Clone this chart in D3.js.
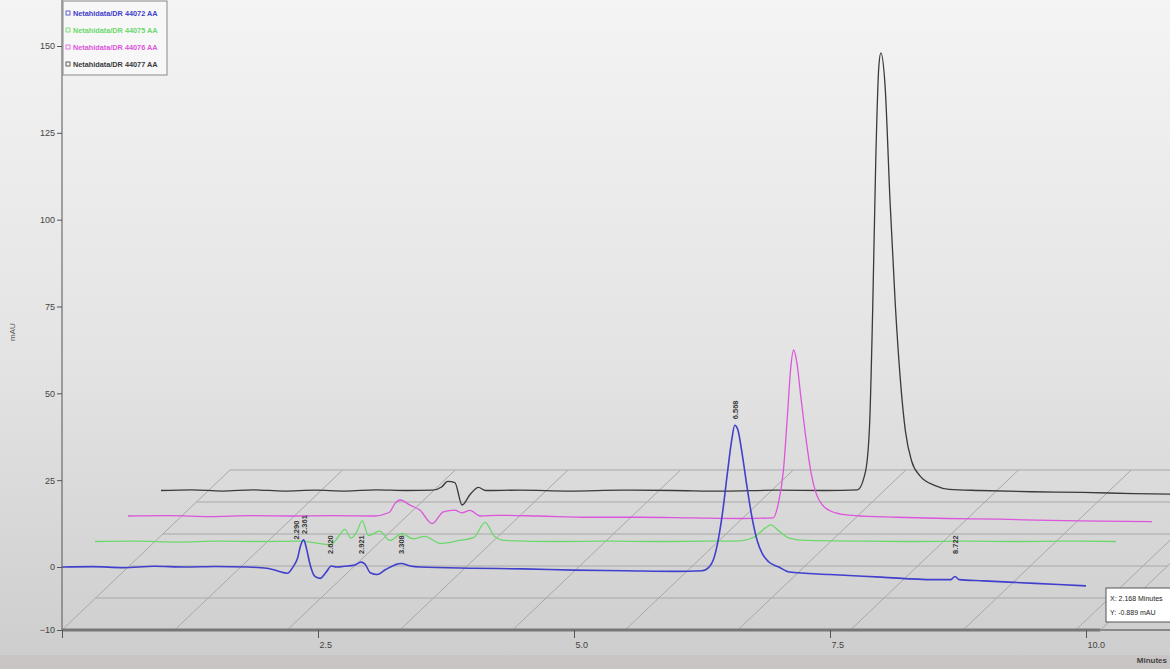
<!DOCTYPE html>
<html>
<head>
<meta charset="utf-8">
<script src="https://cdn.jsdelivr.net/npm/d3@7"></script>
<style>
  html, body { margin: 0; padding: 0; background: #e8e8e8; }
  svg { display: block; }
  text { font-family: "Liberation Sans", "DejaVu Sans", sans-serif; }
</style>
</head>
<body>
<svg id="chart" width="1170" height="669"></svg>
<script>
// ---- data: four overlaid runs, [time (min), signal (mAU)] ----
const seriesNames = [
  "Netahidata/DR 44072 AA",
  "Netahidata/DR 44075 AA",
  "Netahidata/DR 44076 AA",
  "Netahidata/DR 44077 AA"
];
const seriesColors = ["#4040cc", "#6cd86c", "#dc55dc", "#3a3a3a"];

const blueTrace = [
  [0,0],[0.3,0.1],[0.6,-0.1],[0.9,0.2],[1.2,0],[1.5,0.15],[1.8,0],[2.0,-0.2],[2.1,-0.6],
  [2.2,-1.0],[2.26,0.2],[2.3,2.5],[2.33,6.2],[2.36,7.8],[2.39,5.0],[2.42,1.0],[2.47,-1.5],
  [2.52,-1.8],[2.58,-0.8],[2.63,0.3],[2.68,0],[2.76,0.2],[2.86,0.6],[2.92,1.4],[2.96,0.8],
  [3.01,-0.9],[3.08,-1.2],[3.16,-0.4],[3.25,0.6],[3.31,1.0],[3.4,0.3],[3.5,0],[4.0,-0.2],
  [4.5,-0.3],[5.0,-0.5],[5.5,-0.6],[6.0,-0.7],[6.25,-0.6],[6.32,0],[6.36,2],[6.4,6.5],
  [6.45,15.5],[6.5,27.5],[6.54,36.5],[6.57,40.8],[6.6,39.5],[6.64,33],[6.69,23],[6.74,14],
  [6.79,7.5],[6.84,3.8],[6.9,1.5],[7.0,0],[7.1,-0.8],[7.5,-1.2],[8.0,-1.6],[8.5,-2.0],
  [8.68,-2.0],[8.72,-1.5],[8.76,-2.0],[9.0,-2.2],[9.5,-2.6],[10.0,-3.0]
];
const greenTrace = [
  [0,0],[0.4,0.1],[0.8,-0.1],[1.2,0.1],[1.6,0],[2.0,0.1],[2.3,-0.5],[2.38,1.5],[2.44,3.5],
  [2.5,1.0],[2.56,3.0],[2.61,6.0],[2.67,1.7],[2.78,3.0],[2.88,0.3],[3.0,2.3],[3.1,0.8],
  [3.22,1.5],[3.37,-0.3],[3.56,0.3],[3.7,1.2],[3.81,5.5],[3.9,1.5],[4.0,0.3],[4.5,0],
  [5.0,0.1],[5.5,0],[6.0,0.1],[6.3,0.2],[6.45,1.5],[6.55,4.0],[6.6,4.8],[6.68,3.0],
  [6.78,1.0],[6.95,0.3],[7.5,0.1],[8.0,0],[8.5,0.1],[9.0,0],[9.5,0.1],[9.97,0]
];
const magentaTrace = [
  [0,0],[0.4,0.1],[0.8,-0.1],[1.2,0.1],[1.6,0],[2.0,0.1],[2.4,0],[2.55,1.0],[2.61,3.7],
  [2.66,4.6],[2.75,3.2],[2.85,1.7],[2.97,-1.2],[3.08,1.2],[3.19,1.7],[3.26,0.9],[3.34,1.6],
  [3.44,0],[3.6,0.2],[4.0,0],[4.5,-0.2],[5.0,-0.2],[5.5,-0.3],[6.0,-0.4],[6.3,-0.3],
  [6.35,3.5],[6.4,13],[6.44,29],[6.47,42],[6.5,47.8],[6.53,44.5],[6.57,34.5],[6.62,22.5],
  [6.67,12.5],[6.72,6.5],[6.78,3.2],[6.85,1.6],[6.95,0.6],[7.1,0.1],[7.5,-0.2],[8.0,-0.4],
  [8.5,-0.5],[9.0,-0.7],[9.5,-0.8],[10.0,-0.9]
];
const blackTrace = [
  [0,0],[0.3,0.2],[0.6,-0.1],[0.9,0.2],[1.2,-0.1],[1.5,0.1],[1.8,-0.1],[2.1,0.2],[2.4,0],
  [2.65,0.1],[2.74,1.0],[2.8,2.6],[2.87,2.3],[2.94,-2.3],[3.02,-0.6],[3.1,0.9],[3.17,0],
  [3.5,0.1],[4.0,-0.1],[4.5,0.1],[5.0,0],[5.5,-0.1],[6.0,0.1],[6.5,0],[6.8,0.2],[6.88,5.5],
  [6.92,19],[6.95,52],[6.98,95],[7.01,122],[7.03,126],[7.07,117],[7.12,83],[7.17,54],
  [7.22,32],[7.27,17],[7.33,8.5],[7.41,4.3],[7.56,1.4],[7.7,0.3],[8.0,0],[8.5,-0.2],
  [9.0,-0.3],[9.5,-0.5],[10.0,-0.6]
];
const traces = [blueTrace, greenTrace, magentaTrace, blackTrace];

// retention-time labels on the front run
const peakLabels = [
  { t: 2.29, text: "2.290" },
  { t: 2.36, text: "2.361" },
  { t: 2.62, text: "2.620" },
  { t: 2.92, text: "2.921" },
  { t: 3.31, text: "3.308" },
  { t: 6.57, text: "6.568" },
  { t: 8.72, text: "8.722" }
];

const xTickValues = [2.5, 5.0, 7.5, 10.0];
const yTickValues = [-10, 0, 25, 50, 75, 100, 125, 150];
const floorGridTimes = [0, 1.1, 2.2, 3.3, 4.4, 5.5, 6.6, 7.7, 8.8, 9.9];
const cursorText = ["X: 2.168 Minutes", "Y: -0.889 mAU"];

// ---- layout ----
const svg = d3.select("#chart");
const W = 1170, H = 669;

const x = d3.scaleLinear().domain([0, 10]).range([62, 1086]);
const y = d3.scaleLinear().domain([-10, 0, 150]).range([630, 567, 46]);

// per-run shift into depth
const depthDX = 33, depthDY = 25.5;
// floor parallelogram depth
const floorDX = 168, floorDY = 160, floorBands = 5, floorEndT = 10.14;

// background
const defs = svg.append("defs");
const bg = defs.append("linearGradient").attr("id", "bg").attr("x1", 0).attr("y1", 0).attr("x2", 0).attr("y2", 1);
bg.append("stop").attr("offset", "0%").attr("stop-color", "#f4f4f4");
bg.append("stop").attr("offset", "55%").attr("stop-color", "#e3e3e3");
bg.append("stop").attr("offset", "100%").attr("stop-color", "#cdcdcd");
svg.append("rect").attr("width", W).attr("height", H).attr("fill", "url(#bg)");
svg.append("rect").attr("x", 0).attr("y", 655).attr("width", W).attr("height", 14).attr("fill", "#c9c5c5");

// floor grid
const floor = svg.append("g").attr("stroke", "#a8a8a8").attr("stroke-width", 1).attr("fill", "none");
const fy0 = y(-10);
d3.range(1, floorBands + 1).forEach(i => {
  const f = i / floorBands;
  floor.append("line")
    .attr("x1", x(0) + f * floorDX).attr("x2", x(floorEndT) + f * floorDX)
    .attr("y1", fy0 - f * floorDY).attr("y2", fy0 - f * floorDY);
});
floorGridTimes.concat([floorEndT]).forEach(t => {
  floor.append("line")
    .attr("x1", x(t)).attr("y1", fy0)
    .attr("x2", x(t) + floorDX).attr("y2", fy0 - floorDY);
});

// traces, back to front
const line = k => d3.line()
  .x(d => x(d[0]) + k * depthDX)
  .y(d => y(d[1]) - k * depthDY)
  .curve(d3.curveMonotoneX);

const traceG = svg.append("g").attr("fill", "none");
[3, 2, 1, 0].forEach(k => {
  traceG.append("path")
    .datum(traces[k])
    .attr("d", line(k))
    .attr("stroke", seriesColors[k])
    .attr("stroke-width", k === 0 ? 1.6 : 1.3)
    .attr("stroke-linejoin", "round");
});

// peak labels (read trace value at the labelled time)
const valueAt = (trace, t) => {
  const i = d3.bisector(d => d[0]).left(trace, t);
  const a = trace[Math.max(0, i - 1)], b = trace[Math.min(trace.length - 1, i)];
  if (a[0] === b[0]) return a[1];
  return a[1] + (b[1] - a[1]) * (t - a[0]) / (b[0] - a[0]);
};
const localMax = (trace, t) => d3.max(trace.filter(d => Math.abs(d[0] - t) < 0.05), d => d[1]) ?? valueAt(trace, t);
svg.append("g").selectAll("text").data(peakLabels).join("text")
  .attr("transform", d => `translate(${x(d.t) + 3},${Math.min(y(localMax(blueTrace, d.t)) - 6, 554)}) rotate(-90)`)
  .attr("font-size", 7.5).attr("fill", "#3a3a3a").attr("font-weight", "bold")
  .text(d => d.text);

// axes
const yAxis = d3.axisLeft(y).tickValues(yTickValues).tickSize(5).tickFormat(d3.format("d"));
const yg = svg.append("g").attr("transform", `translate(${x(0)},0)`).call(yAxis);
yg.select(".domain").attr("d", `M0,0V${y(-10)}`).attr("stroke", "#555");
yg.selectAll(".tick line").attr("stroke", "#555");
yg.selectAll(".tick text").attr("font-size", 9).attr("fill", "#444").attr("x", -7);

const xAxis = d3.axisBottom(x).tickValues([0].concat(xTickValues)).tickSize(8).tickFormat(d => d === 0 ? "" : d3.format(".1f")(d));
const xg = svg.append("g").attr("transform", `translate(0,${y(-10)})`).call(xAxis);
xg.select(".domain").attr("d", `M${x(0)},0H${x(floorEndT)}`).attr("stroke", "#777").attr("stroke-width", 3);
xg.selectAll(".tick line").attr("stroke", "#555");
xg.selectAll(".tick text").attr("font-size", 9).attr("fill", "#444").attr("text-anchor", "start").attr("dx", 1).attr("y", 12);
svg.append("line").attr("x1", x(floorEndT)).attr("x2", W).attr("y1", y(-10)).attr("y2", y(-10))
  .attr("stroke", "#888").attr("stroke-width", 2);

// axis titles
svg.append("text").attr("transform", `translate(15,332) rotate(-90)`)
  .attr("text-anchor", "middle").attr("font-size", 8).attr("fill", "#555").text("mAU");
svg.append("text").attr("x", 1167).attr("y", 663).attr("text-anchor", "end").attr("font-size", 8)
  .attr("fill", "#444").attr("font-weight", "bold").text("Minutes");

// legend
const lg = svg.append("g").attr("transform", "translate(63,1)");
lg.append("rect").attr("width", 104).attr("height", 74).attr("fill", "#f7f7f7").attr("stroke", "#8a8a8a");
seriesNames.forEach((name, i) => {
  const row = lg.append("g").attr("transform", `translate(3,${15 + i * 17})`);
  row.append("rect").attr("x", 0).attr("y", -5).attr("width", 4).attr("height", 4)
    .attr("fill", "none").attr("stroke", seriesColors[i]).attr("stroke-width", 0.8);
  row.append("text").attr("x", 7).attr("y", 0).attr("font-size", 7.3).attr("font-weight", "bold")
    .attr("fill", seriesColors[i]).text(name);
});

// cursor readout box
const cb = svg.append("g").attr("transform", "translate(1106,588)");
cb.append("rect").attr("width", 80).attr("height", 34).attr("fill", "#ffffff").attr("stroke", "#555");
cursorText.forEach((s, i) => {
  cb.append("text").attr("x", 4).attr("y", 13 + i * 14).attr("font-size", 7).attr("fill", "#222").text(s);
});
</script>
</body>
</html>
